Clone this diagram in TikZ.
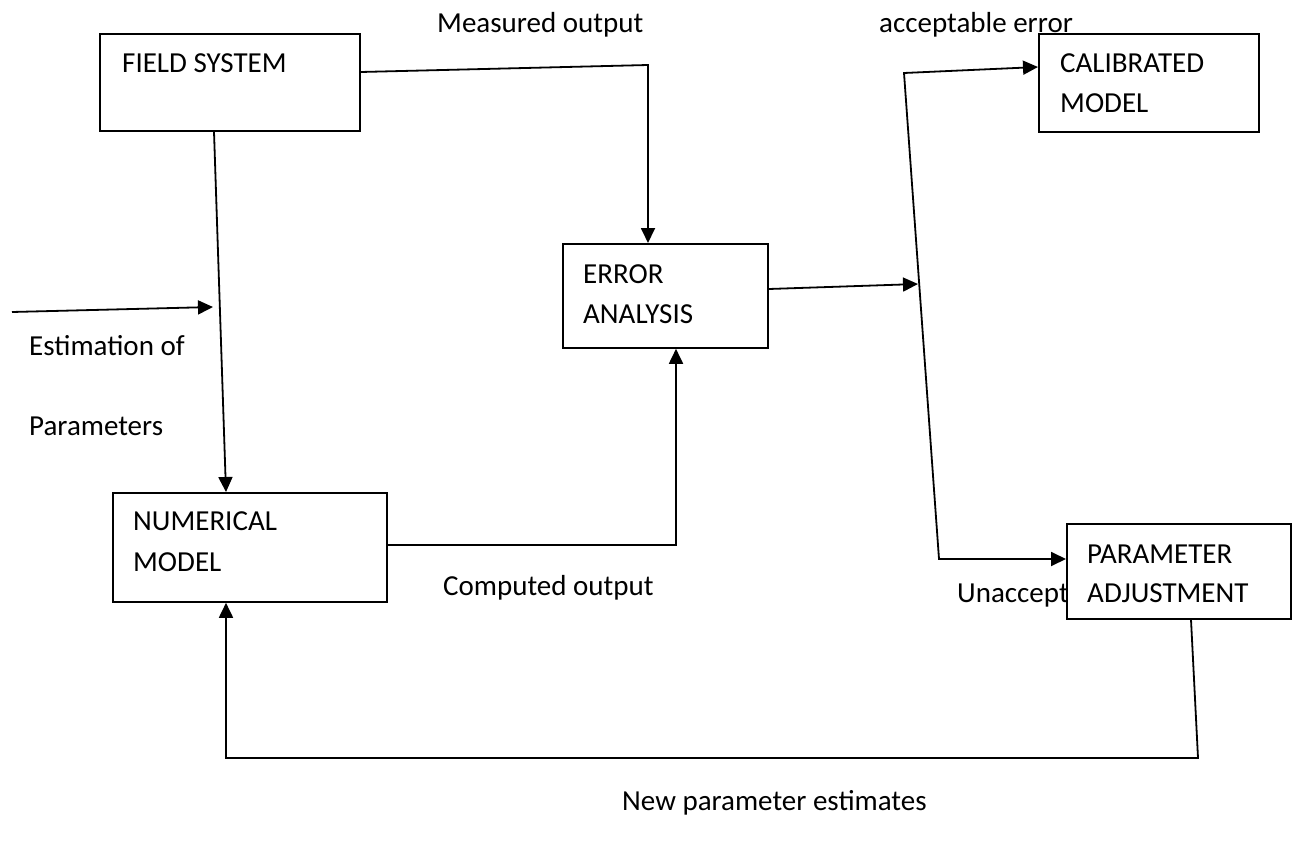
\documentclass[tikz,border=0pt]{standalone}
\usepackage{fontspec}
\setmainfont{Carlito}
\usetikzlibrary{arrows.meta,calc}
\tikzset{
  boxnode/.style={draw, line width=1.8pt, fill=white, rectangle, inner sep=0pt, anchor=north west},
  lbl/.style={anchor=base west, inner sep=0pt, font=\fontsize{29pt}{41pt}\selectfont},
  conn/.style={line width=1.8pt},
  arr/.style={conn, -{Triangle[length=15pt,width=14pt]}},
  biarr/.style={conn, {Triangle[length=15pt,width=14pt]}-{Triangle[length=15pt,width=14pt]}}
}
\begin{document}
\begin{tikzpicture}[x=1pt,y=-1pt]
\useasboundingbox (0,0) rectangle (1298,843);
% boxes
\node[boxnode, minimum width=260pt, minimum height=97pt] (field) at (99,33) {};
\node[boxnode, minimum width=220pt, minimum height=98pt] (calib) at (1038,33) {};
\node[boxnode, minimum width=205pt, minimum height=104pt] (error) at (562,243) {};
\node[boxnode, minimum width=274pt, minimum height=109pt] (num) at (112,492) {};
\node[lbl] (unacc) at (957,602) {Unaccept};
\node[boxnode, minimum width=224pt, minimum height=95pt] (param) at (1066,523) {};
% box texts
\node[lbl] (tfield) at (122,72) {FIELD SYSTEM};
\node[lbl] (tcal1) at (1060,73) {CALIBRATED};
\node[lbl] (tcal2) at (1060,112) {MODEL};
\node[lbl] (terr1) at (583,283) {ERROR};
\node[lbl] (terr2) at (583,323) {ANALYSIS};
\node[lbl] (tnum1) at (133,530) {NUMERICAL};
\node[lbl] (tnum2) at (133,571) {MODEL};
\node[lbl] (tpar1) at (1087,563) {PARAMETER};
\node[lbl] (tpar2) at (1087,602) {ADJUSTMENT};
% labels
\node[lbl] (lmeas) at (437,33) {Measured output};
\node[lbl] (lacc) at (879,33) {acceptable error};
\node[lbl] (lest1) at (29,355) {Estimation of};
\node[lbl] (lest2) at (29,435) {Parameters};
\node[lbl] (lcomp) at (443,595) {Computed output};
\node[lbl] (lnew) at (622,810) {New parameter estimates};
% coordinates
\coordinate (m1) at (648,65);
\coordinate (c1) at (676,545);
\coordinate (d1) at (918,284);
\coordinate (s1) at (904,73);
\coordinate (s2) at (939,559);
\coordinate (e0) at (12,312);
\coordinate (e1) at (213,307);
\coordinate (f1) at (1198,758);
\coordinate (f2) at (226,758);
% connectors
\draw[arr] ($(field.north east)+(0,39)$) -- (m1) -- (m1 |- error.north);
\draw[arr] ($(field.south west)+(115,0)$) -- ($(num.north west)+(114,0)$);
\draw[arr] (e0) -- (e1);
\draw[arr] ($(num.north east)+(0,53)$) -- (c1) -- (c1 |- error.south);
\draw[arr] ($(error.north east)+(0,46)$) -- (d1);
\draw[biarr] ($(calib.north west)+(0,34)$) -- (s1) -- (s2) -- (s2 -| param.west);
\draw[arr] ($(param.south west)+(125,0)$) -- (f1) -- (f2) -- (f2 |- num.south);
\end{tikzpicture}
\end{document}
